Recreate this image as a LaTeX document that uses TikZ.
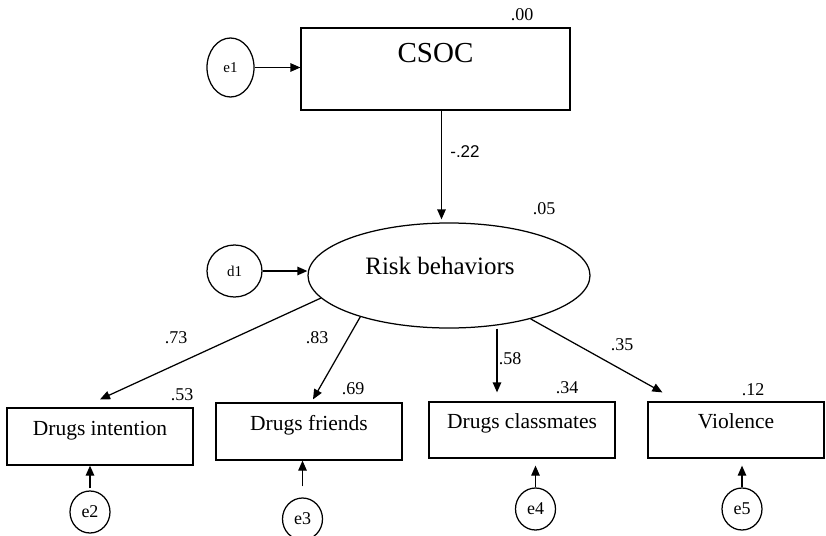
\documentclass[tikz,border=0pt]{standalone}
\usepackage{fontspec}
\setmainfont{Liberation Serif}
\newfontfamily\coefsans{Liberation Sans}
\usetikzlibrary{arrows.meta,shapes.geometric}
\tikzset{
  varbox/.style={draw,rectangle,inner sep=0pt,align=center,line width=1.25pt},
  obsbox/.style={varbox,font=\fontsize{21.5}{24}\selectfont,text height=14pt,text depth=17pt},
  latent/.style={draw,ellipse,inner sep=0pt,line width=1.25pt},
  errc/.style={draw,ellipse,inner sep=0pt,line width=1.25pt,font=\fontsize{18}{20}\selectfont},
  ar/.style={-{Triangle[length=10pt,width=8.5pt]},line width=1.25pt},
  coef/.style={inner sep=0pt,font=\fontsize{18}{20}\selectfont},
}
\begin{document}
\begin{tikzpicture}[x=1pt,y=-1pt]
  \useasboundingbox (0,0) rectangle (826,535);
  % exogenous and latent part
  \node[varbox,minimum width=269pt,minimum height=82pt,font=\fontsize{29}{32}\selectfont,
        text height=20pt,text depth=32pt] (csoc) at (435.5,69) {CSOC};
  \node[errc,minimum width=47pt,minimum height=59pt,font=\fontsize{15}{17}\selectfont] (e1) at (230.5,67.5) {e1};
  \node[latent,minimum width=282pt,minimum height=105pt,font=\fontsize{25}{28}\selectfont,
        text height=17pt,text depth=20pt] (risk) at (449,275.5) {Risk behaviors\hspace*{18pt}};
  \node[errc,minimum width=55pt,minimum height=52pt,font=\fontsize{15}{17}\selectfont] (d1) at (234.5,271) {d1};
  % indicators
  \node[obsbox,minimum width=186pt,minimum height=57pt] (intention) at (100,436.5) {Drugs intention};
  \node[obsbox,minimum width=186pt,minimum height=57pt] (friends) at (309,431.5) {Drugs friends};
  \node[obsbox,minimum width=186pt,minimum height=56pt] (classmates) at (522,430) {Drugs classmates};
  \node[obsbox,minimum width=176pt,minimum height=56pt] (violence) at (736,430) {Violence};
  \node[errc,minimum width=40pt,minimum height=42pt] (e2) at (90,512) {e2};
  \node[errc,minimum width=40pt,minimum height=42pt] (e3) at (302.5,519) {e3};
  \node[errc,minimum width=40pt,minimum height=42pt] (e4) at (535.5,509) {e4};
  \node[errc,minimum width=40pt,minimum height=42pt] (e5) at (742,509) {e5};
  % paths
  \draw[ar] (e1.east) -- (e1.east -| csoc.west);
  \draw[ar] (d1.east) -- (d1.east -| risk.west);
  \draw[ar,shorten >=3pt] ([xshift=6pt]csoc.south) -- ([xshift=6pt]csoc.south |- risk.north);
  \draw[ar] (risk.190) -- ([yshift=8pt]intention.north);
  \draw[ar] (risk.205) -- ([xshift=4pt,yshift=3pt]friends.north);
  \draw[ar,shorten >=9pt] ([xshift=48pt]risk.south) -- ([xshift=-25pt]classmates.north);
  \draw[ar] (risk.332) -- ([xshift=15pt,yshift=9pt]violence.north west);
  \draw[ar,shorten <=2pt] (e2.north) -- (e2.north |- intention.south);
  \draw[ar,shorten <=11pt] (e3.north) -- (e3.north |- friends.south);
  \draw[ar,shorten >=7pt] (e4.north) -- (e4.north |- classmates.south);
  \draw[ar,shorten >=7pt] (e5.north) -- (e5.north |- violence.south);
  % estimates
  \node[coef] (r2csoc) at (522,15) {.00};
  \node[coef,font=\coefsans\fontsize{17}{19}\selectfont] (bcsoc) at (465,152) {-.22};
  \node[coef] (r2risk) at (544,209) {.05};
  \node[coef] (l1) at (176,338) {.73};
  \node[coef] (l2) at (317,338) {.83};
  \node[coef] (l3) at (510,359) {.58};
  \node[coef] (l4) at (622,345) {.35};
  \node[coef] (r2a) at (182,395) {.53};
  \node[coef] (r2b) at (353,389) {.69};
  \node[coef] (r2c) at (567,388) {.34};
  \node[coef] (r2d) at (753,390) {.12};
\end{tikzpicture}
\end{document}
